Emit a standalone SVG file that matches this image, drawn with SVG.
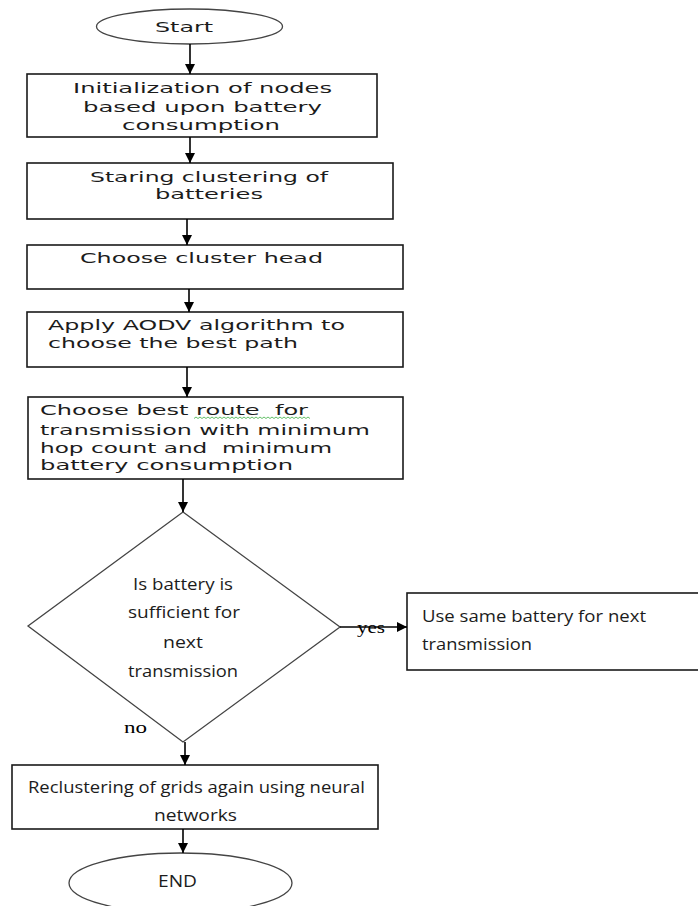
<svg xmlns="http://www.w3.org/2000/svg" width="698" height="906" viewBox="0 0 698 906">
<defs>
<marker id="ah" markerUnits="userSpaceOnUse" markerWidth="11" markerHeight="11" refX="10" refY="5" orient="auto">
<path d="M0,0 L10,5 L0,10 z" fill="#000"/>
</marker>
<style>
.box{fill:#fff;stroke:#1a1a1a;stroke-width:1.6}
.term{fill:#fff;stroke:#444;stroke-width:1.3}
.dia{fill:#fff;stroke:#444;stroke-width:1.3}
.v{font-family:"DejaVu Sans",Verdana,sans-serif;font-size:14.5px;fill:#1c1c1c;white-space:pre}
.c{font-family:"Open Sans","Liberation Sans",sans-serif;font-size:17px;fill:#1c1c1c}
.s{font-family:"Liberation Serif","Times New Roman",serif;font-size:16px;fill:#000}
.conn line{stroke:#000;stroke-width:1.6;marker-end:url(#ah)}
</style>
</defs>
<rect width="698" height="906" fill="#fff"/>

<g id="start">
<ellipse class="term" cx="189.5" cy="26.5" rx="93" ry="17.5"/>
<text class="v" x="155" y="32" textLength="58" lengthAdjust="spacingAndGlyphs">Start</text>
</g>

<g id="init">
<rect class="box" x="27" y="74" width="350" height="63"/>
<text class="v" x="73" y="93" textLength="259" lengthAdjust="spacingAndGlyphs">Initialization of nodes</text>
<text class="v" x="83" y="112" textLength="239" lengthAdjust="spacingAndGlyphs">based upon battery</text>
<text class="v" x="122" y="130" textLength="158" lengthAdjust="spacingAndGlyphs">consumption</text>
</g>

<g id="clustering">
<rect class="box" x="27" y="163" width="366" height="56"/>
<text class="v" x="90" y="182" textLength="238" lengthAdjust="spacingAndGlyphs">Staring clustering of</text>
<text class="v" x="155" y="199" textLength="108" lengthAdjust="spacingAndGlyphs">batteries</text>
</g>

<g id="head">
<rect class="box" x="27" y="245" width="376" height="44"/>
<text class="v" x="80" y="263" textLength="243" lengthAdjust="spacingAndGlyphs">Choose cluster head</text>
</g>

<g id="aodv">
<rect class="box" x="27" y="312" width="376" height="55"/>
<text class="v" x="48" y="330" textLength="297" lengthAdjust="spacingAndGlyphs">Apply AODV algorithm to</text>
<text class="v" x="48" y="348" textLength="250" lengthAdjust="spacingAndGlyphs">choose the best path</text>
</g>

<g id="route">
<rect class="box" x="28" y="397" width="375" height="82"/>
<text class="v" x="40" y="415" textLength="268" lengthAdjust="spacingAndGlyphs" xml:space="preserve">Choose best route  for</text>
<path d="M194,418.5 l2,-1.5 l2,1.5 l2,-1.5 l2,1.5 l2,-1.5 l2,1.5 l2,-1.5 l2,1.5 l2,-1.5 l2,1.5 l2,-1.5 l2,1.5 l2,-1.5 l2,1.5 l2,-1.5 l2,1.5 l2,-1.5 l2,1.5 l2,-1.5 l2,1.5 l2,-1.5 l2,1.5 l2,-1.5 l2,1.5 l2,-1.5 l2,1.5 l2,-1.5 l2,1.5 l2,-1.5 l2,1.5 l2,-1.5 l2,1.5 l2,-1.5 l2,1.5 l2,-1.5 l2,1.5 l2,-1.5 l2,1.5 l2,-1.5 l2,1.5 l2,-1.5 l2,1.5 l2,-1.5 l2,1.5 l2,-1.5 l2,1.5 l2,-1.5 l2,1.5 l2,-1.5 l2,1.5 l2,-1.5 l2,1.5 l2,-1.5 l2,1.5 l2,-1.5 l2,1.5 l2,-1.5 l2,1.5" fill="none" stroke="#3cb043" stroke-width="0.8"/>
<text class="v" x="40" y="435" textLength="330" lengthAdjust="spacingAndGlyphs">transmission with minimum</text>
<text class="v" x="40" y="453" textLength="292" lengthAdjust="spacingAndGlyphs" xml:space="preserve">hop count and  minimum</text>
<text class="v" x="40" y="470" textLength="253" lengthAdjust="spacingAndGlyphs">battery consumption</text>
</g>

<g id="decision">
<polygon class="dia" points="183,512 340,627 183,742 28,626"/>
<text class="c" x="133" y="590" textLength="100" lengthAdjust="spacingAndGlyphs">Is battery is</text>
<text class="c" x="128" y="618" textLength="112" lengthAdjust="spacingAndGlyphs">sufficient for</text>
<text class="c" x="163" y="648" textLength="40" lengthAdjust="spacingAndGlyphs">next</text>
<text class="c" x="128" y="677" textLength="110" lengthAdjust="spacingAndGlyphs">transmission</text>
</g>

<g id="same">
<rect class="box" x="407" y="593" width="295" height="77"/>
<text class="c" x="422" y="622" textLength="224" lengthAdjust="spacingAndGlyphs">Use same battery for next</text>
<text class="c" x="422" y="650" textLength="110" lengthAdjust="spacingAndGlyphs">transmission</text>
</g>

<g id="recluster">
<rect class="box" x="12" y="765" width="366" height="64"/>
<text class="c" x="28" y="793" textLength="337" lengthAdjust="spacingAndGlyphs">Reclustering of grids again using neural</text>
<text class="c" x="154" y="821" textLength="83" lengthAdjust="spacingAndGlyphs">networks</text>
</g>

<g id="end">
<ellipse class="term" cx="180.5" cy="883" rx="111.5" ry="30"/>
<text class="c" x="158" y="887" textLength="39" lengthAdjust="spacingAndGlyphs">END</text>
</g>

<g id="connectors" class="conn">
<line x1="190" y1="44" x2="190" y2="74"/>
<line x1="190" y1="137" x2="190" y2="163"/>
<line x1="187" y1="219" x2="187" y2="245"/>
<line x1="189" y1="289" x2="189" y2="312"/>
<line x1="187" y1="367" x2="187" y2="397"/>
<line x1="183" y1="479" x2="183" y2="512"/>
<line x1="340" y1="627" x2="407" y2="627"/>
<line x1="185" y1="742" x2="185" y2="765"/>
<line x1="183" y1="829" x2="183" y2="853"/>
</g>

<g id="labels">
<text class="s" x="357" y="633" textLength="28" lengthAdjust="spacingAndGlyphs">yes</text>
<text class="s" x="124" y="733" textLength="23" lengthAdjust="spacingAndGlyphs">no</text>
</g>
</svg>
